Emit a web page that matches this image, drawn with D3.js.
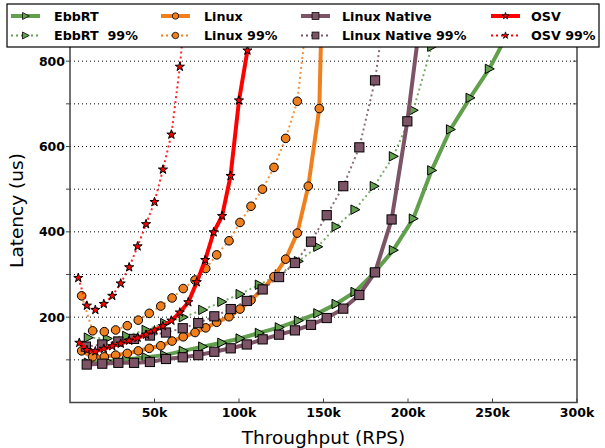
<!DOCTYPE html>
<html>
<head>
<meta charset="utf-8">
<script src="https://cdn.jsdelivr.net/npm/d3@7"></script>
<style>
  body { margin: 0; background: #fff; }
  svg { display: block; font-family: "DejaVu Sans", sans-serif; }
</style>
</head>
<body>
<svg width="605" height="448"></svg>
<script>
// throughput (RPS) and latency (us)
var ebbrtX   = [10800, 22100, 33500, 45000, 56000, 67000, 78500, 89800, 100600, 112000, 123800, 135100, 146600, 157400, 168600, 180000, 191300, 203100, 214000, 225100, 236700, 248100, 259800];
var ebbrtLat = [93, 96, 101, 106, 111, 121, 131, 140, 150, 163, 176, 192, 209, 231, 259, 304, 357, 431, 544, 640, 714, 782, 870];

var ebbrt99X   = [10800, 22100, 33500, 45000, 56000, 67000, 78500, 89800, 100600, 112000, 123800, 135100, 146600, 157400, 168600, 180000, 191300, 203100, 214000];
var ebbrt99Lat = [152, 150, 156, 170, 186, 200, 217, 236, 254, 276, 300, 331, 365, 412, 452, 507, 577, 685, 834];

var linuxX   = [6900, 13400, 20300, 27000, 33900, 40400, 46900, 53700, 60400, 67000, 74000, 80300, 86800, 94100, 100600, 107100, 113900, 120700, 127600, 134500, 141000, 147500, 149500];
var linuxLat = [121, 107, 107, 111, 115, 121, 127, 133, 144, 154, 164, 175, 188, 201, 219, 240, 266, 295, 336, 397, 507, 689, 1000];

var linux99X   = [6900, 13400, 20300, 27000, 33900, 40400, 46900, 53700, 60400, 67000, 74000, 80300, 86800, 94100, 100600, 107100, 113900, 120700, 127600, 134500, 141000];
var linux99Lat = [250, 168, 166, 170, 180, 193, 209, 226, 245, 267, 287, 314, 346, 379, 422, 460, 500, 551, 619, 706, 930];

var nativeX   = [9900, 19100, 28600, 37900, 47300, 56800, 66700, 75900, 85400, 95100, 104600, 114000, 123700, 133100, 142600, 151900, 161700, 171200, 180500, 190300, 199600, 208900];
var nativeLat = [89, 91, 93, 93, 95, 102, 106, 111, 119, 127, 136, 148, 159, 169, 182, 198, 220, 252, 305, 429, 659, 950];

var native99X   = [9400, 19100, 28600, 37900, 47300, 56800, 66700, 75900, 85400, 95100, 104600, 114000, 123700, 133100, 142600, 151900, 161700, 171200, 180500, 185500];
var native99Lat = [131, 136, 143, 149, 157, 164, 174, 186, 202, 219, 238, 265, 294, 327, 377, 439, 507, 598, 755, 900];

var osvX   = [5500, 10000, 15000, 20000, 25000, 30000, 35000, 40000, 45000, 50000, 55000, 60000, 65000, 70000, 75000, 80000, 85000, 90000, 95000, 100000, 105000];
var osvLat = [140, 123, 120, 126, 132, 138, 145, 152, 159, 169, 179, 192, 211, 235, 282, 334, 399, 437, 531, 708, 825];

var osv99X   = [4900, 10000, 15000, 20000, 25000, 30000, 35000, 40000, 45000, 50000, 55000, 60000, 65000, 70000];
var osv99Lat = [292, 227, 217, 231, 250, 279, 317, 366, 418, 470, 546, 628, 787, 1000];

var xTicks = [50000, 100000, 150000, 200000, 250000, 300000];
var yTicks = [200, 400, 600, 800];

var svg = d3.select("svg");
var plotLeft = 70, plotRight = 577, plotTop = 18.5, plotBottom = 402.5;

var x = d3.scaleLinear().domain([0, 300000]).range([plotLeft, plotRight]);
var y = d3.scaleLinear().domain([0, 900]).range([plotBottom, plotTop]);

var green = "#62a04e", orange = "#f07f1d", mauve = "#7d5366", red = "#ff0000";

var triRight = "M5,0L-4,4.7L-4,-4.7Z";
var markers = {
	tri: function(g) { g.append("path").attr("d", triRight); },
	circle: function(g) { g.append("circle").attr("r", 4.3); },
	square: function(g) { g.append("rect").attr("x", -4.6).attr("y", -4.6).attr("width", 9.2).attr("height", 9.2); },
	star: function(g) { g.append("path").attr("d", d3.symbol(d3.symbolStar, 26)()); }
};

var series = [
	{ name: "EbbRT", xs: ebbrtX, ys: ebbrtLat, color: green, dotted: false, marker: "tri" },
	{ name: "EbbRT  99%", xs: ebbrt99X, ys: ebbrt99Lat, color: green, dotted: true, marker: "tri" },
	{ name: "Linux", xs: linuxX, ys: linuxLat, color: orange, dotted: false, marker: "circle" },
	{ name: "Linux 99%", xs: linux99X, ys: linux99Lat, color: orange, dotted: true, marker: "circle" },
	{ name: "Linux Native", xs: nativeX, ys: nativeLat, color: mauve, dotted: false, marker: "square" },
	{ name: "Linux Native 99%", xs: native99X, ys: native99Lat, color: mauve, dotted: true, marker: "square" },
	{ name: "OSV", xs: osvX, ys: osvLat, color: red, dotted: false, marker: "star" },
	{ name: "OSV 99%", xs: osv99X, ys: osv99Lat, color: red, dotted: true, marker: "star" }
];

svg.append("clipPath").attr("id", "plot-clip")
	.append("rect").attr("x", plotLeft).attr("y", plotTop)
	.attr("width", plotRight - plotLeft).attr("height", plotBottom - plotTop);

// dotted horizontal grid
svg.append("g").selectAll("line")
	.data(d3.range(100, 900, 100))
	.enter().append("line")
	.attr("x1", plotLeft).attr("x2", plotRight)
	.attr("y1", function(d) { return y(d); }).attr("y2", function(d) { return y(d); })
	.attr("stroke", "#000").attr("stroke-width", 1).attr("stroke-dasharray", "1,3");

var plot = svg.append("g").attr("clip-path", "url(#plot-clip)");
var line = d3.line().x(function(d) { return x(d[0]); }).y(function(d) { return y(d[1]); });

series.forEach(function(s) {
	var pts = s.xs.map(function(v, i) { return [v, s.ys[i]]; });
	plot.append("path")
		.datum(pts)
		.attr("d", line)
		.attr("fill", "none")
		.attr("stroke", s.color)
		.attr("stroke-width", s.dotted ? 2 : 4)
		.attr("stroke-dasharray", s.dotted ? "2,3" : null)
		.attr("stroke-opacity", s.dotted ? 0.85 : 1);
	plot.append("g").selectAll("g")
		.data(pts)
		.enter().append("g")
		.attr("transform", function(d) { return "translate(" + x(d[0]) + "," + y(d[1]) + ")"; })
		.each(function() { markers[s.marker](d3.select(this)); })
		.selectAll("*")
		.attr("fill", s.color).attr("stroke", "#000").attr("stroke-width", 1);
});

// frame
svg.append("rect")
	.attr("x", plotLeft).attr("y", plotTop)
	.attr("width", plotRight - plotLeft).attr("height", plotBottom - plotTop)
	.attr("fill", "none").attr("stroke", "#444").attr("stroke-width", 1.5);

// ticks
var ticks = svg.append("g").attr("stroke", "#444").attr("stroke-width", 1);
xTicks.forEach(function(t) {
	ticks.append("line").attr("x1", x(t)).attr("x2", x(t)).attr("y1", plotBottom).attr("y2", plotBottom - 4);
});
d3.range(100, 900, 100).forEach(function(t) {
	ticks.append("line").attr("x1", plotLeft - 4).attr("x2", plotLeft).attr("y1", y(t)).attr("y2", y(t));
	ticks.append("line").attr("x1", plotRight - 4).attr("x2", plotRight).attr("y1", y(t)).attr("y2", y(t));
});

svg.append("g").selectAll("text")
	.data(xTicks)
	.enter().append("text")
	.attr("x", function(d) { return x(d); })
	.attr("y", 417)
	.attr("text-anchor", "middle")
	.attr("font-size", "12.5px").attr("font-weight", "bold")
	.text(function(d) { return (d / 1000) + "k"; });

svg.append("g").selectAll("text")
	.data(yTicks)
	.enter().append("text")
	.attr("x", 65)
	.attr("y", function(d) { return y(d) + 4.5; })
	.attr("text-anchor", "end")
	.attr("font-size", "12.5px").attr("font-weight", "bold")
	.text(function(d) { return d; });

svg.append("text")
	.attr("x", (plotLeft + plotRight) / 2).attr("y", 444)
	.attr("text-anchor", "middle").attr("font-size", "18.5px")
	.text("Throughput (RPS)");

svg.append("text")
	.attr("transform", "translate(23," + ((plotTop + plotBottom) / 2) + ") rotate(-90)")
	.attr("text-anchor", "middle").attr("font-size", "18.5px")
	.text("Latency (us)");

// legend, 4 columns x 2 rows, filled column-wise
var legend = svg.append("g");
legend.append("rect")
	.attr("x", 7).attr("y", 4).attr("width", 592).attr("height", 43)
	.attr("fill", "#fff").attr("stroke", "#000").attr("stroke-width", 1.2);

var colX = [11, 161, 301, 491], textX = [54, 204, 342, 531], rowY = [16, 35.5];
series.forEach(function(s, i) {
	var c = Math.floor(i / 2), r = i % 2;
	var g = legend.append("g").attr("transform", "translate(" + colX[c] + "," + rowY[r] + ")");
	g.append("line").attr("x1", 0).attr("x2", 29)
		.attr("stroke", s.color)
		.attr("stroke-width", s.dotted ? 2 : 4)
		.attr("stroke-dasharray", s.dotted ? "2,3" : null);
	var m = g.append("g").attr("transform", "translate(14.5,0) scale(0.75)");
	markers[s.marker](m);
	m.selectAll("*").attr("fill", s.color).attr("stroke", "#000").attr("stroke-width", 1);
	legend.append("text")
		.attr("x", textX[c]).attr("y", rowY[r] + 4.5)
		.attr("font-size", "12.7px").attr("font-weight", "bold")
		.style("white-space", "pre")
		.text(s.name);
});
</script>
</body>
</html>
